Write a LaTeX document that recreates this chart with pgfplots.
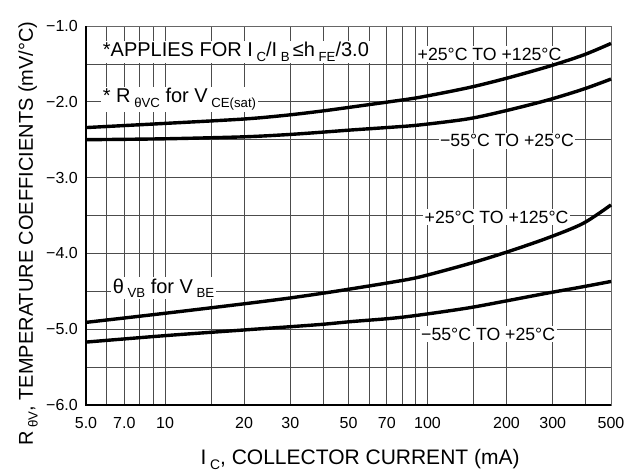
\documentclass[border=0pt]{standalone}
\usepackage{fontspec}
\setmainfont{Liberation Sans}
\usepackage{pgfplots}
\pgfplotsset{compat=1.18}
\usepackage{pgfplotstable}
\newcommand\sub[1]{\hspace{0.18em}\raisebox{-0.45ex}{\scalebox{0.66}{#1}}}

\pgfplotstableread{
x y
5 -2.34
10 -2.285
20 -2.227
29.2 -2.176
40 -2.12
51.1 -2.07
73.2 -1.995
93.6 -1.94
142.6 -1.815
197.3 -1.695
285 -1.54
391 -1.385
500 -1.23
}\vcehot
\pgfplotstableread{
x y
5 -2.50
10 -2.488
20 -2.462
29.2 -2.433
40 -2.40
51.1 -2.372
73.2 -2.335
93.6 -2.305
142.6 -2.225
197.3 -2.12
285 -1.98
391 -1.835
500 -1.70
}\vcecold
\pgfplotstableread{
x y
5 -4.91
10 -4.79
20 -4.665
29.2 -4.593
40 -4.525
51.1 -4.468
73.2 -4.38
93.6 -4.31
142.6 -4.14
197.3 -3.99
285 -3.80
391 -3.605
500 -3.36
}\vbehot
\pgfplotstableread{
x y
5 -5.17
10 -5.085
20 -5.01
29.2 -4.97
40 -4.935
51.1 -4.90
73.2 -4.856
93.6 -4.812
142.6 -4.72
197.3 -4.63
285 -4.525
391 -4.44
500 -4.37
}\vbecold

\begin{document}
\begin{tikzpicture}
\begin{axis}[
  scale only axis,
  width=525bp, height=379bp,
  xmode=log, xmin=5, xmax=500,
  ymin=-6, ymax=-1,
  clip=false,
  xtick={5,7,10,20,30,50,70,100,200,300,500},
  xticklabels={5.0,7.0,10,20,30,50,70,100,200,300,500},
  minor xtick={6,8,9,15,40,60,80,90,150,400},
  ytick={-6,-5,-4,-3,-2,-1},
  yticklabels={−6.0,−5.0,−4.0,−3.0,−2.0,−1.0},
  minor ytick={-5.5,-4.5,-3.5,-2.5,-1.5},
  grid=both,
  major grid style={black!70, line width=0.8bp},
  minor grid style={black!70, line width=0.8bp},
  major tick length=0pt, minor tick length=0pt,
  axis line style={black!60, line width=0.8bp},
  tick label style={font=\fontsize{16bp}{18bp}\selectfont},
  xticklabel style={anchor=north, inner sep=0pt, yshift=-12bp},
  yticklabel style={anchor=east, inner sep=0pt, xshift=-8bp},
]
\coordinate (bbSW) at (rel axis cs:0,0);
\coordinate (bbNE) at (rel axis cs:1,1);

\node[anchor=base west, fill=white, inner sep=1.5bp, font=\fontsize{20bp}{22bp}\selectfont]
  at (rel axis cs:0.029,0.919) {*APPLIES FOR I\sub{C}/I\sub{B}\,≤h\sub{FE}/3.0};
\node[anchor=base west, fill=white, inner sep=1.5bp, font=\fontsize{20bp}{22bp}\selectfont]
  at (rel axis cs:0.029,0.798) {* R\sub{θVC} for V\sub{CE(sat)}};
\node[anchor=base west, fill=white, inner sep=1.5bp, font=\fontsize{20bp}{22bp}\selectfont]
  at (rel axis cs:0.048,0.295) {θ\sub{VB} for V\sub{BE}};

\node[anchor=base, fill=white, inner sep=1.5bp, font=\fontsize{17.7bp}{20bp}\selectfont]
  at (rel axis cs:0.7686,0.910) {+25°C TO +125°C};
\node[anchor=base, fill=white, inner sep=1.5bp, font=\fontsize{17.7bp}{20bp}\selectfont]
  at (rel axis cs:0.802,0.681) {−55°C TO +25°C};
\node[anchor=base, fill=white, inner sep=1.5bp, font=\fontsize{17.7bp}{20bp}\selectfont]
  at (rel axis cs:0.782,0.480) {+25°C TO +125°C};
\node[anchor=base, fill=white, inner sep=1.5bp, font=\fontsize{17.7bp}{20bp}\selectfont]
  at (rel axis cs:0.766,0.1715) {−55°C TO +25°C};

\addplot[black, line width=3.4bp, smooth] table[x=x,y=y] {\vcehot};
\addplot[black, line width=3.4bp, smooth] table[x=x,y=y] {\vcecold};
\addplot[black, line width=3.4bp, smooth] table[x=x,y=y] {\vbehot};
\addplot[black, line width=3.4bp, smooth] table[x=x,y=y] {\vbecold};

\draw[black, line width=2.6bp] (rel axis cs:0,1) -- (rel axis cs:0,0) -- (rel axis cs:1,0);

\node[anchor=base, font=\fontsize{21bp}{24bp}\selectfont]
  at (rel axis cs:0.522,-0.156) {I\sub{C}, COLLECTOR CURRENT (mA)};
\node[anchor=base, rotate=90, font=\fontsize{20bp}{24bp}\selectfont]
  at (rel axis cs:-0.101,0.4525) {R\sub{θV}, TEMPERATURE COEFFICIENTS (mV/°C)};
\end{axis}
\pgfresetboundingbox
\path ([shift={(-86bp,-68bp)}]bbSW) rectangle ([shift={(25bp,26bp)}]bbNE);
\end{tikzpicture}
\end{document}
